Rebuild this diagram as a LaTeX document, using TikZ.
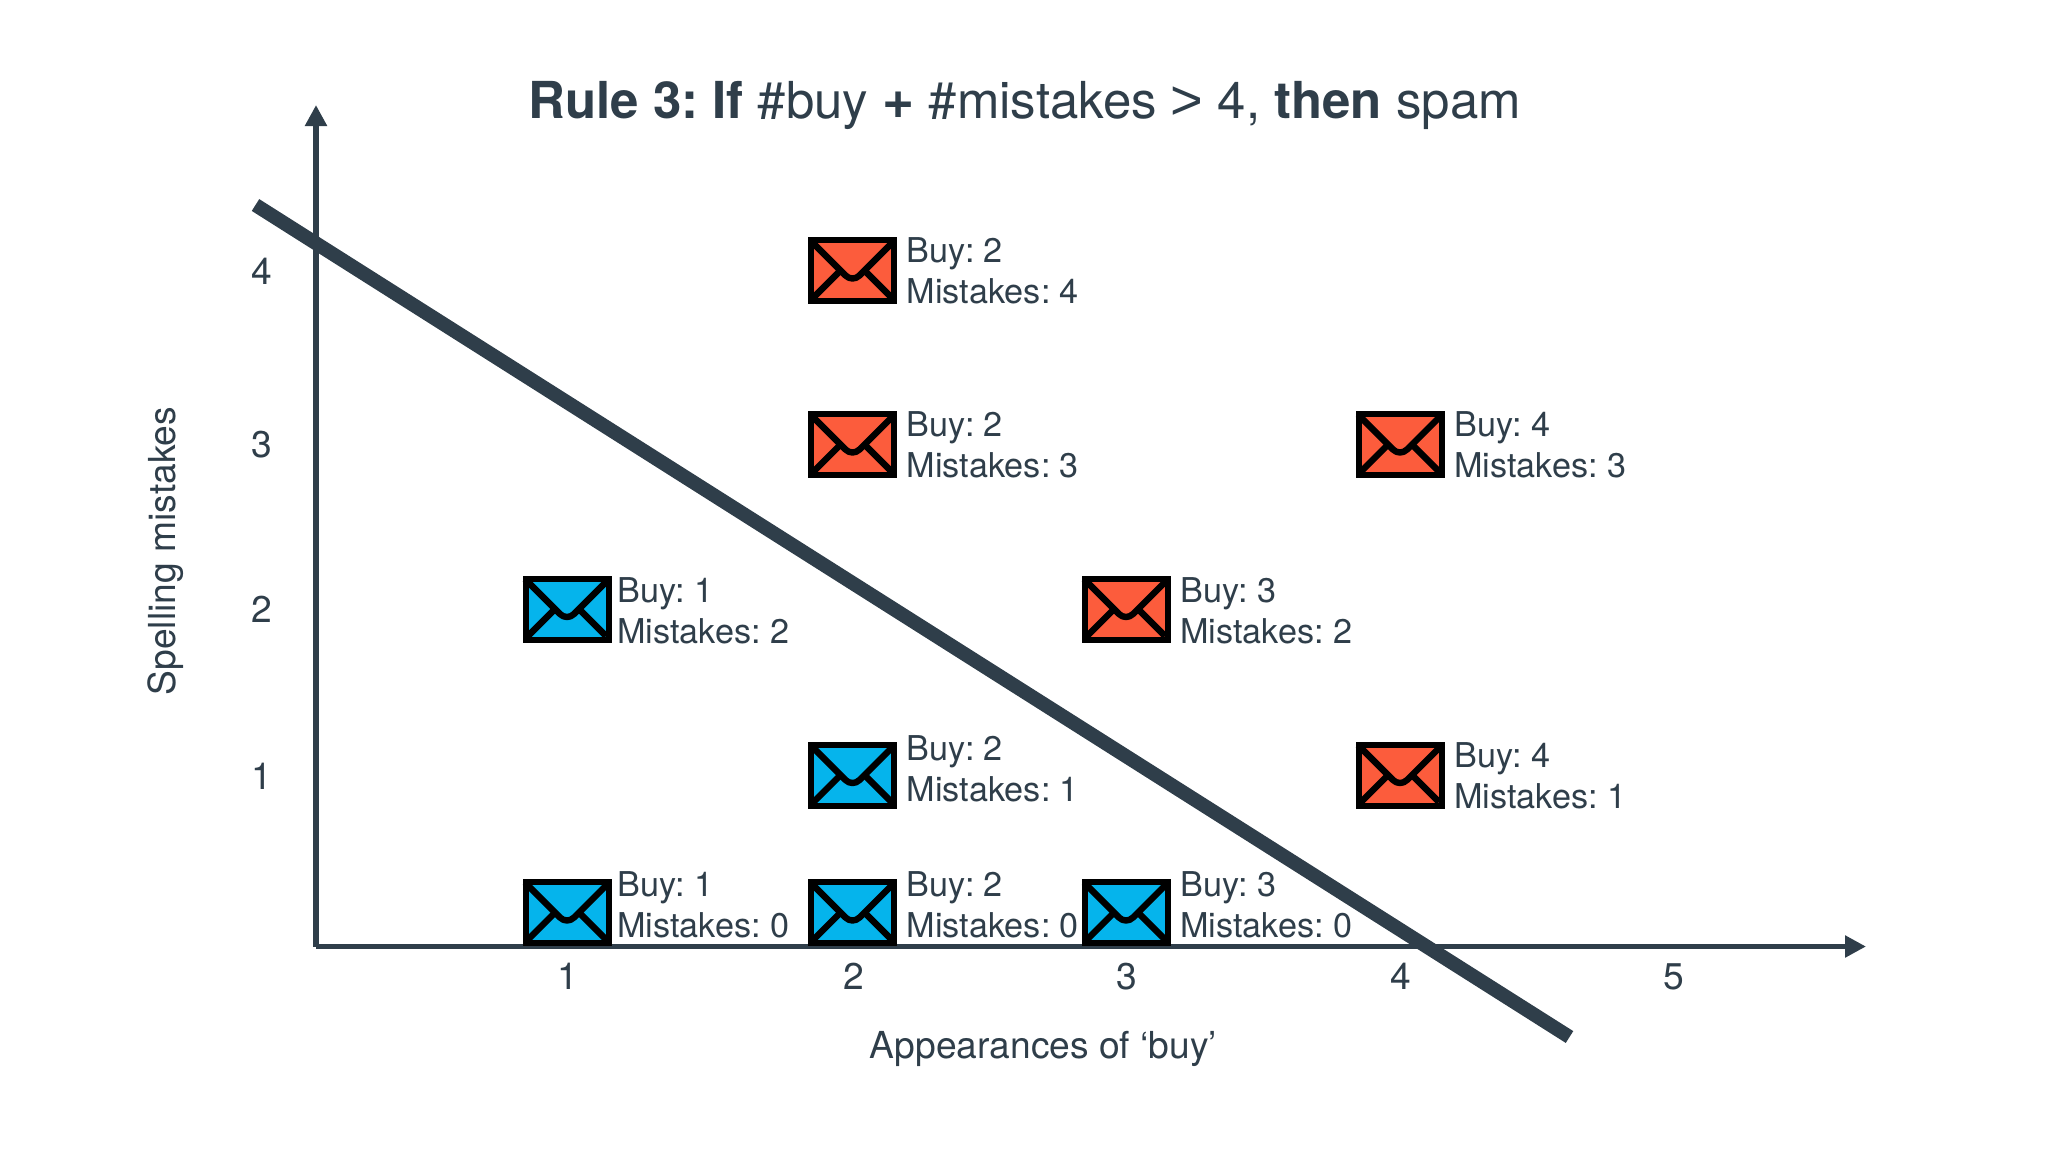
\documentclass[tikz,border=0pt]{standalone}
\usepackage{fontspec}
\setmainfont{TeX Gyre Heros}
\newfontfamily\gtfont{Liberation Sans}
\usetikzlibrary{arrows.meta,calc}
\definecolor{ink}{HTML}{2F3E4A}
\definecolor{spamred}{HTML}{FC5C3C}
\definecolor{hamblue}{HTML}{05B4EC}
\tikzset{
  x=0.5pt,y=-0.5pt,
  axisline/.style={draw=ink,line width=2.7pt,-{Triangle[length=10.5pt,width=10.5pt]}},
  boundary/.style={draw=ink,line width=7pt},
  envbox/.style={draw=black,line width=3pt,inner sep=0pt,minimum width=41.5pt,minimum height=30.5pt},
  envline/.style={draw=black,line width=3.2pt,line join=round},
  lab/.style={text=ink,font=\fontsize{17.1}{20.3}\selectfont,align=left,anchor=west,inner sep=0pt},
  tick/.style={text=ink,font=\fontsize{18.6}{20}\selectfont,inner sep=0pt},
  axlab/.style={text=ink,font=\fontsize{18.6}{20}\selectfont,inner sep=0pt},
  titl/.style={text=ink,font=\fontsize{25.48}{30}\selectfont,inner sep=0pt,anchor=west},
}
\newcommand{\envmail}[6]{%
  % #1 name, #2 x, #3 y, #4 fill, #5 label x,y, #6 text
  \node[envbox,fill=#4] (#1) at (#2,#3) {};
  \draw[envline] ($(#1)+(-42,-30)$) -- ($(#1)+(-7,5)$) .. controls ($(#1)+(-3,9)$) and ($(#1)+(3,9)$) .. ($(#1)+(7,5)$) -- ($(#1)+(42,-30)$);
  \draw[envline] ($(#1)+(-39,27)$) -- ($(#1)+(-13,1)$);
  \draw[envline] ($(#1)+(39,27)$) -- ($(#1)+(13,1)$);
  \node[lab] (#1t) at (#5) {#6};
}
\begin{document}
\frenchspacing
\begin{tikzpicture}
\useasboundingbox (0,0) rectangle (2048,1152);
\coordinate (origin) at (316,946.5);
\coordinate (ytip) at (316,105);
\coordinate (xtip) at (1866,946.5);
\coordinate (ruleA) at (255.5,205);
\coordinate (ruleB) at (1569.5,1037);

\node[titl] (title) at (528,105.5) {\textbf{Rule 3: If} \#buy {\fontsize{27.5}{30}\selectfont\textbf{+}} \#mistakes {\gtfont\fontsize{28}{30}\selectfont\raisebox{-0.4pt}{>}} 4, \textbf{then} spam};

\draw[axisline] (origin) -- (ytip);
\draw[axisline] (origin) -- (xtip);

\node[tick] (x1) at (568,976.5) {1};
\node[tick] (x2) at (853.5,976.5) {2};
\node[tick] (x3) at (1127,976.5) {3};
\node[tick] (x4) at (1401,976.5) {4};
\node[tick] (x5) at (1674,976.5) {5};
\node[tick] (y4) at (262,271.5) {4};
\node[tick] (y3) at (262,444.5) {3};
\node[tick] (y2) at (262,609) {2};
\node[tick] (y1) at (262,776) {1};
\node[axlab] (xlabel) at (1043.5,1048.5) {Appearances of ‘buy’};
\node[axlab,rotate=90] (ylabel) at (166,551) {Spelling mistakes};

\envmail{e24}{852.5}{270.5}{spamred}{906.5,271}{Buy: 2\\Mistakes: 4}
\envmail{e23}{852.5}{444.5}{spamred}{906.5,445}{Buy: 2\\Mistakes: 3}
\envmail{e43}{1400}{444.5}{spamred}{1454,445}{Buy: 4\\Mistakes: 3}
\envmail{e12}{567}{609}{hamblue}{617,611}{Buy: 1\\Mistakes: 2}
\envmail{e32}{1126}{609}{spamred}{1180,611}{Buy: 3\\Mistakes: 2}
\envmail{e21}{852.5}{775}{hamblue}{906.5,769}{Buy: 2\\Mistakes: 1}
\envmail{e41}{1400}{775}{spamred}{1454,776}{Buy: 4\\Mistakes: 1}
\envmail{e10}{567}{912.5}{hamblue}{617,905}{Buy: 1\\Mistakes: 0}
\envmail{e20}{852.5}{912.5}{hamblue}{906.5,905}{Buy: 2\\Mistakes: 0}
\envmail{e30}{1126}{912.5}{hamblue}{1180,905}{Buy: 3\\Mistakes: 0}

\draw[boundary] (ruleA) -- (ruleB);
\end{tikzpicture}
\end{document}
